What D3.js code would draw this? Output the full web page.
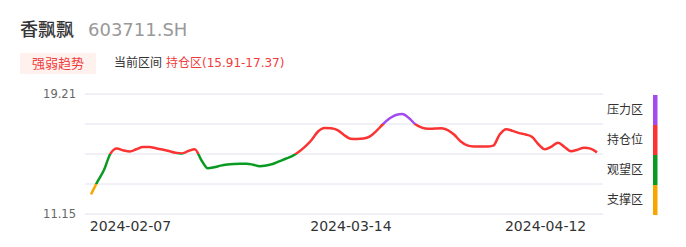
<!DOCTYPE html>
<html>
<head>
<meta charset="utf-8">
<script src="https://cdn.jsdelivr.net/npm/d3@7"></script>
<style>
  body { margin: 0; background: #fff; }
  svg { font-family: "DejaVu Sans", "Noto Sans CJK SC", sans-serif; }
</style>
</head>
<body>
<div id="chart"></div>
<script>
let width = 686
let height = 247

// -- data
let stockName = '香飘飘'
let stockCode = '603711.SH'
let currentZone = '持仓区(15.91-17.37)'
let yMin = 11.15
let yMax = 19.21
let prices = [12.47, 13.33, 14.10, 15.21, 15.55, 15.42, 15.35, 15.50, 15.65, 15.65,
              15.57, 15.48, 15.38, 15.27, 15.22, 15.38, 15.50, 14.78, 14.22, 14.29,
              14.40, 14.47, 14.51, 14.53, 14.53, 14.46, 14.36, 14.41, 14.51, 14.68,
              14.86, 15.03, 15.31, 15.67, 16.12, 16.69, 16.93, 16.91, 16.79, 16.46,
              16.21, 16.19, 16.22, 16.36, 16.73, 17.18, 17.56, 17.80, 17.87, 17.60,
              17.18, 16.95, 16.87, 16.89, 16.91, 16.79, 16.47, 16.02, 15.76, 15.69,
              15.68, 15.68, 15.74, 16.49, 16.85, 16.73, 16.58, 16.49, 16.32, 15.82,
              15.50, 15.68, 15.94, 15.65, 15.36, 15.47, 15.60, 15.54, 15.29]
let tickIndex = [6, 40, 70]
let tickLabels = ['2024-02-07', '2024-03-14', '2024-04-12']
let zoneNames = ['压力区', '持仓位', '观望区', '支撑区']
let zoneColors = ['#a24cf0', '#fb3333', '#0a9a22', '#f7a600']

let svg = d3.select('#chart').append('svg')
            .attr('width', width)
            .attr('height', height)

// -- header
let title = svg.append('text').attr('x', 20).attr('y', 36)
title.append('tspan').text(stockName).attr('font-size', 18).attr('font-weight', 500).attr('fill', '#333')
title.append('tspan').text(stockCode).attr('dx', 14).attr('font-size', 18).attr('fill', '#999')

svg.append('rect').attr('x', 20).attr('y', 53).attr('width', 76).attr('height', 21)
   .attr('fill', '#fff1ee')
svg.append('text').attr('x', 58).attr('y', 68).attr('text-anchor', 'middle')
   .attr('font-size', 13).attr('fill', '#f03c3c').text('强弱趋势')
svg.append('text').attr('x', 114).attr('y', 67).attr('font-size', 12)
   .attr('fill', '#333').text('当前区间')
svg.append('text').attr('x', 166).attr('y', 67).attr('font-size', 12)
   .attr('fill', '#f03c3c').text(currentZone)

// -- scales
let xScale = d3.scaleLinear().domain([0, prices.length - 1]).range([91, 597])
let yScale = d3.scaleLinear().domain([yMin, yMax]).range([214, 94])
let zoneEdges = d3.range(5).map(i => yMin + (yMax - yMin) * i / 4)

// -- grid
svg.append('g').selectAll('line')
   .data(zoneEdges)
   .enter()
   .append('line')
   .attr('x1', 85).attr('x2', 603)
   .attr('y1', d => yScale(d)).attr('y2', d => yScale(d))
   .attr('stroke', '#e0e4f0').attr('stroke-width', 1)

// -- y axis labels (only min and max)
let yAxis = d3.axisLeft(yScale).tickValues([yMin, yMax]).tickFormat(d3.format('.2f')).tickSize(0).tickPadding(0)
svg.append('g')
   .attr('transform', 'translate(76, 0)')
   .call(yAxis)
   .call(g => g.select('.domain').remove())
   .call(g => g.selectAll('text').attr('font-size', 11.5).attr('fill', '#666')
               .attr('font-family', '"DejaVu Sans", sans-serif'))

// -- x axis labels
let xAxis = d3.axisBottom(xScale).tickValues(tickIndex)
              .tickFormat((d, i) => tickLabels[i]).tickSize(0).tickPadding(0)
svg.append('g')
   .attr('transform', 'translate(0, 221)')
   .call(xAxis)
   .call(g => g.select('.domain').remove())
   .call(g => g.selectAll('text').attr('font-size', 14).attr('fill', '#333')
               .attr('font-family', '"DejaVu Sans", sans-serif'))

// -- line colored by zone
let grad = svg.append('defs').append('linearGradient')
              .attr('id', 'zoneGrad')
              .attr('gradientUnits', 'userSpaceOnUse')
              .attr('x1', 0).attr('x2', 0)
              .attr('y1', yScale(yMax)).attr('y2', yScale(yMin))
zoneColors.forEach((c, i) => {
  grad.append('stop').attr('offset', i / 4).attr('stop-color', c)
  grad.append('stop').attr('offset', (i + 1) / 4).attr('stop-color', c)
})

let line = d3.line()
             .x((d, i) => xScale(i))
             .y(d => yScale(d))
             .curve(d3.curveMonotoneX)

svg.append('path')
   .datum(prices)
   .attr('d', line)
   .attr('fill', 'none')
   .attr('stroke', 'url(#zoneGrad)')
   .attr('stroke-width', 2.5)
   .attr('stroke-linejoin', 'round')

// -- zone legend
let legend = svg.append('g')
legend.selectAll('rect')
      .data(zoneColors)
      .enter()
      .append('rect')
      .attr('x', 653)
      .attr('y', (d, i) => yScale(zoneEdges[4 - i]) + 1)
      .attr('width', 4.5)
      .attr('height', (d, i) => yScale(zoneEdges[3 - i]) - yScale(zoneEdges[4 - i]))
      .attr('fill', d => d)
legend.selectAll('text')
      .data(zoneNames)
      .enter()
      .append('text')
      .attr('x', 607)
      .attr('y', (d, i) => (yScale(zoneEdges[4 - i]) + yScale(zoneEdges[3 - i])) / 2 + 5)
      .attr('font-size', 12)
      .attr('fill', '#333')
      .text(d => d)
</script>
</body>
</html>
